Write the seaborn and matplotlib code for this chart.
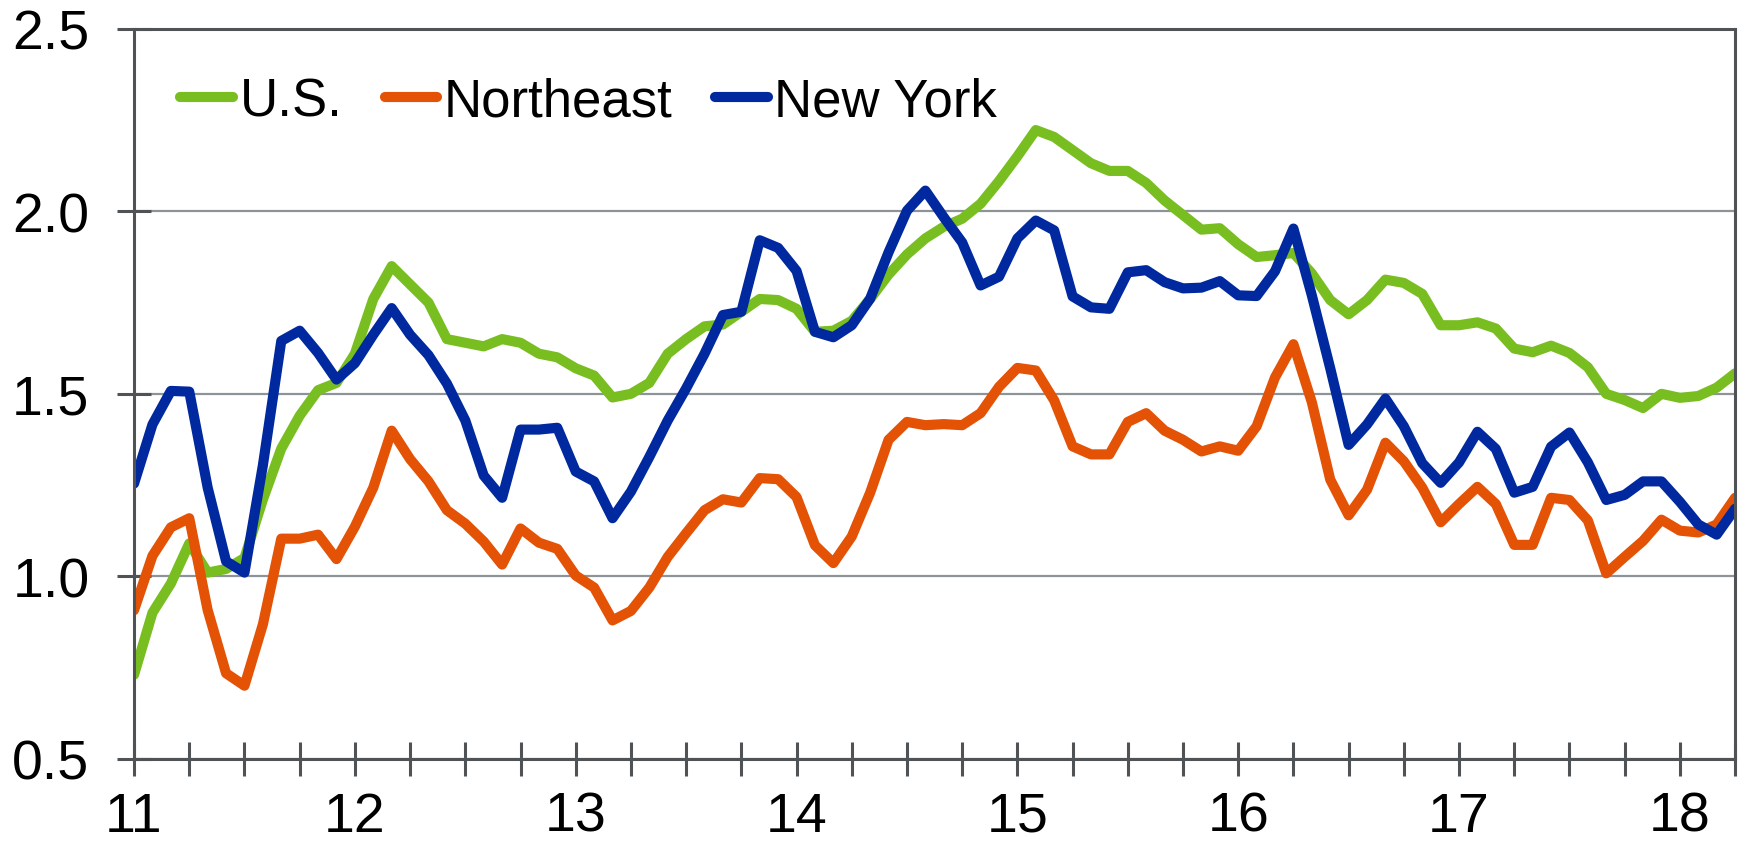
import numpy as np
import pandas as pd
import matplotlib
matplotlib.use("Agg")
import matplotlib.pyplot as plt
import seaborn as sns
from matplotlib.ticker import MultipleLocator

# monthly values, Jan 2011 .. Apr 2018
us = [0.73, 0.90, 0.98, 1.09, 1.01, 1.02, 1.05, 1.21, 1.35, 1.44, 1.51, 1.53,
      1.61, 1.76, 1.85, 1.80, 1.75, 1.65, 1.64, 1.63, 1.65, 1.64, 1.61, 1.60,
      1.57, 1.55, 1.49, 1.50, 1.53, 1.61, 1.65, 1.685, 1.69, 1.725, 1.76, 1.757,
      1.733, 1.67, 1.673, 1.70, 1.76, 1.827, 1.882, 1.926, 1.958, 1.98, 2.021, 2.083,
      2.151, 2.223, 2.204, 2.168, 2.132, 2.111, 2.111, 2.078, 2.03, 1.99, 1.95, 1.954,
      1.91, 1.875, 1.88, 1.886, 1.83, 1.757, 1.718, 1.757, 1.813, 1.804, 1.774, 1.688,
      1.688, 1.696, 1.679, 1.624, 1.614, 1.632, 1.612, 1.573, 1.50, 1.483, 1.461, 1.50,
      1.489, 1.494, 1.517, 1.556]
northeast = [0.907, 1.056, 1.134, 1.159, 0.907, 0.734, 0.70, 0.868, 1.103, 1.103, 1.114, 1.047,
             1.136, 1.243, 1.399, 1.321, 1.26, 1.181, 1.144, 1.095, 1.032, 1.131, 1.092, 1.075,
             1.002, 0.969, 0.879, 0.905, 0.969, 1.053, 1.118, 1.181, 1.211, 1.202, 1.269, 1.266,
             1.217, 1.085, 1.036, 1.109, 1.229, 1.374, 1.423, 1.414, 1.417, 1.414, 1.447, 1.519,
             1.571, 1.564, 1.482, 1.356, 1.334, 1.334, 1.423, 1.447, 1.399, 1.374, 1.342, 1.356,
             1.344, 1.411, 1.545, 1.636, 1.477, 1.265, 1.167, 1.237, 1.366, 1.315, 1.243, 1.148,
             1.198, 1.245, 1.198, 1.086, 1.086, 1.215, 1.209, 1.153, 1.008, 1.053, 1.097, 1.155,
             1.125, 1.12, 1.142, 1.215]
new_york = [1.254, 1.416, 1.508, 1.506, 1.243, 1.041, 1.01, 1.304, 1.645, 1.673, 1.612, 1.539,
            1.584, 1.662, 1.735, 1.662, 1.606, 1.528, 1.427, 1.276, 1.215, 1.402, 1.402, 1.407,
            1.287, 1.26, 1.159, 1.232, 1.327, 1.427, 1.515, 1.61, 1.716, 1.725, 1.921, 1.90,
            1.837, 1.67, 1.655, 1.688, 1.761, 1.888, 2.002, 2.057, 1.984, 1.915, 1.797, 1.821,
            1.926, 1.975, 1.948, 1.767, 1.737, 1.733, 1.833, 1.839, 1.806, 1.789, 1.791, 1.809,
            1.77, 1.768, 1.836, 1.953, 1.77, 1.57, 1.36, 1.416, 1.487, 1.411, 1.31, 1.256,
            1.312, 1.396, 1.349, 1.229, 1.245, 1.355, 1.394, 1.312, 1.209, 1.223, 1.26, 1.26,
            1.204, 1.142, 1.114, 1.185]

series_names = ["U.S.", "Northeast", "New York"]
colors = ["#78be20", "#e35205", "#0029a0"]
year_labels = ["11", "12", "13", "14", "15", "16", "17", "18"]

t = 11 + np.arange(len(us)) / 12
df = pd.DataFrame({"t": np.tile(t, 3),
                   "value": us + northeast + new_york,
                   "series": np.repeat(series_names, len(us))})

sns.set_style("white")
plt.rcParams["font.family"] = ["Liberation Sans", "DejaVu Sans"]

fig = plt.figure(figsize=(17.41, 8.45), dpi=100)
ax = fig.add_axes([0.077, 0.101, 0.9196, 0.8635])

sns.lineplot(data=df, x="t", y="value", hue="series", hue_order=series_names,
             palette=colors, ax=ax, legend=True)
for ln in ax.lines:
    ln.set_linewidth(7.3)
    ln.set_solid_capstyle("round")
    ln.set_solid_joinstyle("round")

ax.set_xlim(11, 18.25)
ax.set_ylim(0.5, 2.5)
ax.set_xticks(range(11, 19))
ax.set_xticklabels(year_labels)
ax.xaxis.set_minor_locator(MultipleLocator(0.25))
ax.set_yticks([0.5, 1.0, 1.5, 2.0, 2.5])
ax.set_yticklabels(["0.5", "1.0", "1.5", "2.0", "2.5"])
ax.set_xlabel("")
ax.set_ylabel("")

ax.grid(axis="y", color="#8e9399", linewidth=1.6)
ax.set_axisbelow(True)
for sp in ax.spines.values():
    sp.set_color("#505356")
    sp.set_linewidth(2.2)
ax.tick_params(axis="both", which="both", direction="inout", length=24, width=2.2,
               color="#505356", labelsize=40, labelcolor="black",
               bottom=True, left=True, top=False, right=False)
ax.tick_params(axis="x", which="major", pad=11)
ax.tick_params(axis="y", which="major", pad=20)
ax.tick_params(axis="y", which="minor", length=0)

handles, labels = ax.get_legend_handles_labels()
leg = ax.legend(handles, labels, loc="center left", bbox_to_anchor=(0.029, 0.900),
                ncol=3, frameon=False, fontsize=38, handlelength=1.0,
                handletextpad=0.12, columnspacing=0.8, borderpad=0, borderaxespad=0,
                labelcolor="black")
for h in leg.get_lines():
    h.set_linewidth(7.3)
    h.set_solid_capstyle("round")

fig.savefig("out.png", dpi=100)
